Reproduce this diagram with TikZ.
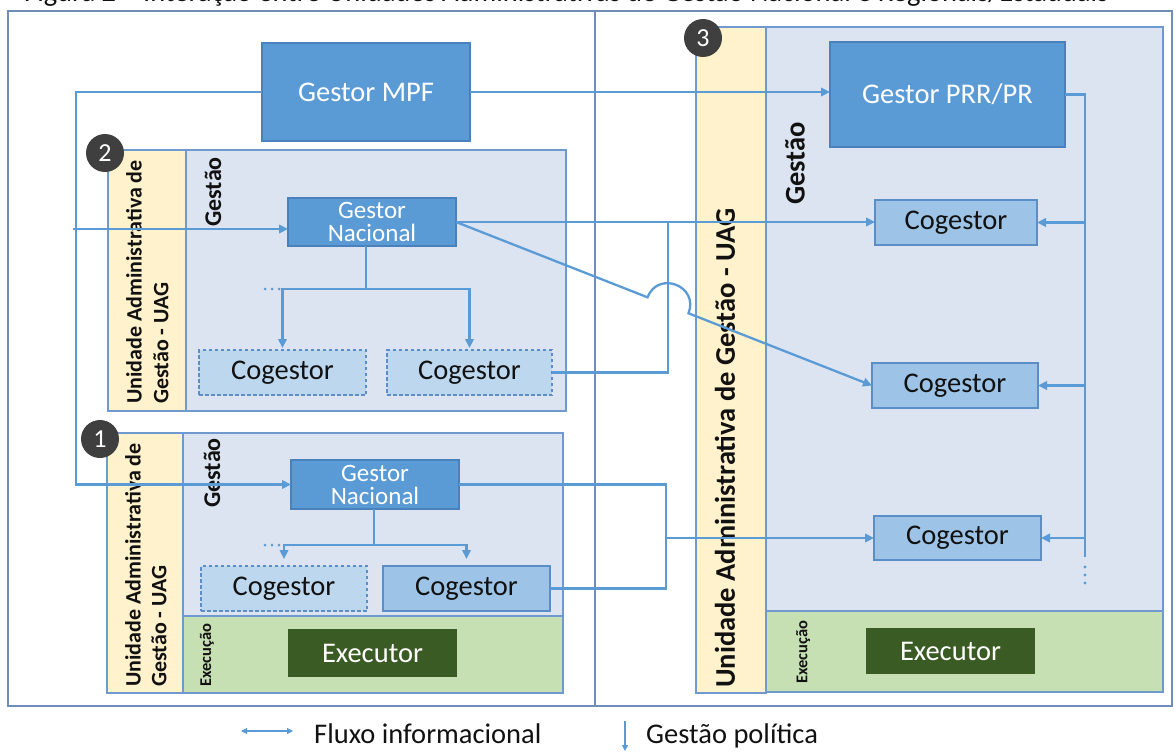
\documentclass[tikz,border=0pt]{standalone}
\usepackage{fontspec}
\setmainfont{Carlito}
\usetikzlibrary{arrows.meta,calc}
\definecolor{lineblue}{HTML}{5B9BD5}
\definecolor{framec}{HTML}{6E8DB8}
\definecolor{areadraw}{HTML}{6F9AD0}
\definecolor{gestfill}{HTML}{DCE4F2}
\definecolor{yellowfill}{HTML}{FFF2CC}
\definecolor{greenfill}{HTML}{C6E0B4}
\definecolor{mpffill}{HTML}{5B9BD5}
\definecolor{mpfdraw}{HTML}{4A80BC}
\definecolor{cogfill}{HTML}{9DC3E6}
\definecolor{cogdashfill}{HTML}{BDD7EE}
\definecolor{cogdraw}{HTML}{5B8DC6}
\definecolor{exfill}{HTML}{3B5B25}
\definecolor{circfill}{HTML}{3F3F3F}
\definecolor{txtc}{HTML}{111111}
\newcommand\fsbig{\fontsize{28.5}{30}\selectfont}
\newcommand\fsgn{\fontsize{25}{23}\selectfont}
\newcommand\fsuag{\bfseries\fontsize{22}{24}\selectfont}
\newcommand\fsuagbig{\bfseries\fontsize{28.5}{30}\selectfont}
\newcommand\fsgestao{\bfseries\fontsize{24}{26}\selectfont}
\newcommand\fsexec{\bfseries\fontsize{16.5}{18}\selectfont}
\newcommand\fsnum{\fontsize{26}{28}\selectfont}
\begin{document}
\begin{tikzpicture}[x=1pt,y=-1pt,
  flow/.style={draw=lineblue, line width=2.3pt},
  flowarrow/.style={flow, -{Triangle[length=9pt,width=8.5pt]}},
  legline/.style={draw=lineblue, line width=1.2pt},
  frameline/.style={draw=framec, line width=1.5pt},
  area/.style={draw=areadraw, line width=1.4pt},
  box/.style={draw, line width=1.3pt, inner sep=0pt, outer sep=0pt, align=center, font=\fsbig},
  mpfbox/.style={box, fill=mpffill, draw=mpfdraw, text=white},
  gnbox/.style={mpfbox, font=\fsgn},
  cogbox/.style={box, fill=cogfill, draw=cogdraw, text=txtc},
  cogdash/.style={box, fill=cogdashfill, draw=cogdraw, line width=1.1pt, dash pattern=on 3.5pt off 2.5pt, text=txtc},
  exbox/.style={box, fill=exfill, draw=exfill, text=white},
  numcirc/.style={circle, fill=circfill, minimum size=38pt, inner sep=0pt, text=white, font=\fsnum},
  vlabel/.style={rotate=90, inner sep=0pt, text=txtc},
  legtext/.style={inner sep=0pt, font=\fsbig, text=txtc}
]
\useasboundingbox (0,0) rectangle (1174,752);
\clip (0,0) rectangle (1174,752);

% title (cut at the top edge, as in the reference)
\node[anchor=base west, inner sep=0pt, font=\fsbig, text=txtc] (title) at (24,2)
  {Figura 2 – Interação entre Unidades Administrativas de Gestão Nacional e Regionais/Estaduais};

% frame
\draw[frameline] (8,11) rectangle (1172,706);
\draw[frameline] (595,11) -- (595,706);

% section 2 areas
\filldraw[area, fill=yellowfill] (108,150) rectangle (186,411);
\filldraw[area, fill=gestfill] (186,150) rectangle (566,411);
% section 1 areas
\filldraw[area, fill=yellowfill] (107,433) rectangle (183,693);
\filldraw[area, fill=gestfill] (183,433) rectangle (563,616);
\filldraw[area, fill=greenfill] (183,616) rectangle (563,693);
% section 3 areas
\filldraw[area, fill=yellowfill] (696,27) rectangle (766,693);
\filldraw[area, fill=gestfill] (766,27) rectangle (1163,611);
\filldraw[area, fill=greenfill] (766,611) rectangle (1163,692);

% vertical labels
\node[vlabel, anchor=west, font=\fsuag] (uag2a) at (134,404) {Unidade Administrativa de};
\node[vlabel, anchor=west, font=\fsuag] (uag2b) at (161,404) {Gestão - UAG};
\node[vlabel, anchor=west, font=\fsuag] (uag1a) at (133,687) {Unidade Administrativa de};
\node[vlabel, anchor=west, font=\fsuag] (uag1b) at (159,687) {Gestão - UAG};
\node[vlabel, anchor=west, font=\fsuagbig] (uag3) at (725,688) {Unidade Administrativa de Gestão - UAG};
\node[vlabel, anchor=east, font=\fsgestao] (ges2) at (213,157) {Gestão};
\node[vlabel, anchor=east, font=\fsgestao] (ges1) at (212,438) {Gestão};
\node[vlabel, anchor=east, font=\fsuagbig] (ges3) at (795,122) {Gestão};
\node[vlabel, anchor=west, font=\fsexec] (exe1) at (207,687) {Execução};
\node[vlabel, anchor=west, font=\fsexec] (exe3) at (803,684) {Execução};

% boxes
\node[mpfbox, minimum width=208pt, minimum height=98pt] (mpf) at (366,92) {Gestor MPF};
\node[mpfbox, minimum width=235pt, minimum height=105pt] (prr) at (947.5,94.5) {Gestor PRR/PR};
\node[gnbox, minimum width=168pt, minimum height=48pt] (gn2) at (372,222) {Gestor\\Nacional};
\node[gnbox, minimum width=168pt, minimum height=49pt] (gn1) at (375,484.5) {Gestor\\Nacional};
\node[cogdash, minimum width=167pt, minimum height=45pt] (cg2a) at (282.5,372.5) {Cogestor};
\node[cogdash, minimum width=165pt, minimum height=45pt] (cg2b) at (469.5,372.5) {Cogestor};
\node[cogdash, minimum width=166pt, minimum height=45pt] (cg1a) at (284,588.5) {Cogestor};
\node[cogbox, minimum width=167pt, minimum height=45pt] (cg1b) at (466.5,588.5) {Cogestor};
\node[exbox, minimum width=167pt, minimum height=46pt] (ex1) at (372.5,653) {Executor};
\node[cogbox, minimum width=162pt, minimum height=45pt] (c1) at (956,222.5) {Cogestor};
\node[cogbox, minimum width=166pt, minimum height=45pt] (c2) at (955,385.5) {Cogestor};
\node[cogbox, minimum width=167pt, minimum height=44pt] (c3) at (957.5,538) {Cogestor};
\node[exbox, minimum width=167pt, minimum height=44pt] (ex3) at (950.5,651) {Executor};

% coordinates for connector routes
\coordinate (lcol) at (76,0);
\coordinate (b2) at (73,229);
\coordinate (br2) at (668,222);
\coordinate (br1) at (666,538);
\coordinate (rcol) at (1085,0);
\coordinate (rend) at (1085,557);
\coordinate (hopA) at (647.5,297.3);
\coordinate (hopC1) at (658.2,270.0);
\coordinate (hopC2) at (699.2,286.0);
\coordinate (hopB) at (688.5,313.3);
\coordinate (t2) at ($(gn2.south)+(-6,43)$);
\coordinate (t1) at ($(gn1.south)+(-1,36)$);

% connectors
\draw[flowarrow] (mpf.west) -- (mpf.west -| lcol) |- (gn1.west);
\draw[flowarrow] (b2) -- (b2 -| gn2.west);
\draw[flowarrow] (mpf.east) -- (mpf.east -| prr.west);
\draw[flowarrow] (gn2.east) -- (gn2.east -| c1.west);
\draw[flowarrow] (gn2.east) -- (hopA) .. controls (hopC1) and (hopC2) .. (hopB) -- (c2.west);
\draw[flow] (cg2b.east) -| (br2);
\draw[flow] (gn1.east) -| (br1);
\draw[flow] (cg1b.east) -| (br1);
\draw[flowarrow] (br1) -- (br1 -| c3.west);

\draw[flow] (prr.east) -- (prr.east -| rcol) -- (rend);
\draw[flowarrow] (c1.east -| rcol) -- (c1.east);
\draw[flowarrow] (c2.east -| rcol) -- (c2.east);
\draw[flowarrow] (c3.east -| rcol) -- (c3.east);
\foreach \yy in {567,575,583} \fill[lineblue] (1085,\yy) circle (1.6);

% trees
\draw[flow] (gn2.south -| t2) -- (t2);
\draw[flowarrow, shorten >=2pt] (t2) -| (cg2a.north);
\draw[flowarrow, shorten >=2pt] (t2) -| (cg2b.north);
\foreach \xx in {265,272,279} \fill[lineblue] (\xx,289) circle (1.5);
\draw[flow] (gn1.south -| t1) -- (t1);
\draw[flowarrow, shorten >=7pt] (t1) -| (cg1a.north);
\draw[flowarrow, shorten >=7pt] (t1) -| (cg1b.north);
\foreach \xx in {265,272,279} \fill[lineblue] (\xx,545) circle (1.5);

% numbered circles
\node[numcirc] (n2) at (105,153) {2};
\node[numcirc] (n1) at (100,439) {1};
\node[numcirc] (n3) at (703,38) {3};

% legend
\coordinate (lg1) at (241,731);
\coordinate (lg2) at (293,731);
\draw[legline, {Triangle[length=6pt,width=6pt]}-{Triangle[length=6pt,width=6pt]}] (lg1) -- (lg2);
\node[legtext, anchor=base west] (legfluxo) at (314,743) {Fluxo informacional};
\coordinate (lg3) at (625,721);
\coordinate (lg4) at (625,751);
\draw[legline, -{Triangle[length=6pt,width=6pt]}] (lg3) -- (lg4);
\node[legtext, anchor=base west] (leggp) at (646,743) {Gestão política};
\end{tikzpicture}
\end{document}
